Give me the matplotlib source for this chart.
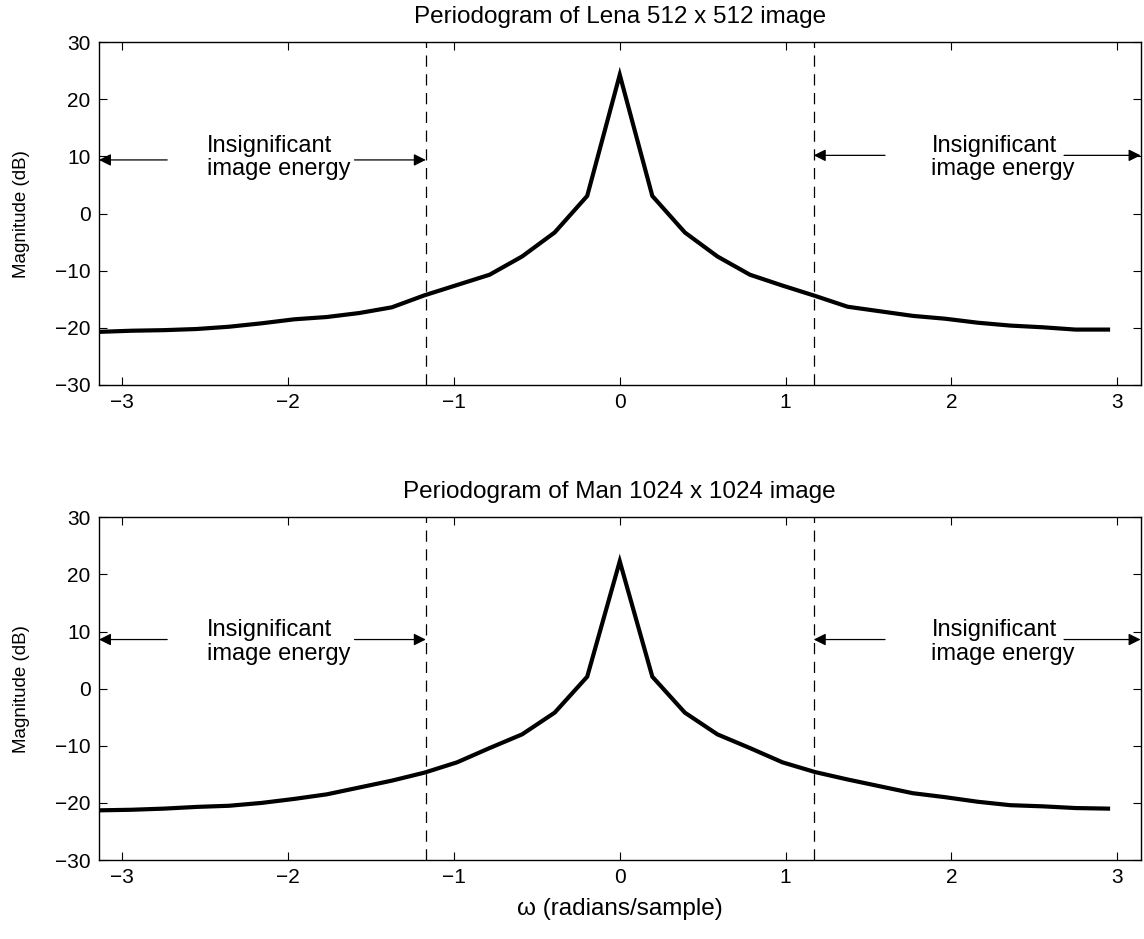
import numpy as np
import matplotlib
matplotlib.use("Agg")
import matplotlib.pyplot as plt

# ---- data ----
k = np.arange(-16, 16)
omega = k * np.pi / 16.0

lena_db = [-20.7, -20.5, -20.4, -20.2, -19.8, -19.2, -18.5, -18.1, -17.4, -16.4,
           -14.3, -12.5, -10.7, -7.5, -3.3, 3.1, 24.3, 3.1, -3.3, -7.5,
           -10.7, -12.6, -14.4, -16.3, -17.1, -17.9, -18.4, -19.1, -19.6, -19.9,
           -20.3, -20.3]
man_db = [-21.3, -21.2, -21.0, -20.7, -20.5, -20.0, -19.3, -18.5, -17.3, -16.1,
          -14.7, -12.9, -10.4, -8.0, -4.2, 2.1, 22.3, 2.1, -4.2, -8.0,
          -10.4, -12.9, -14.6, -15.9, -17.1, -18.3, -19.0, -19.8, -20.4, -20.6,
          -20.9, -21.0]

titles = ["Periodogram of Lena 512 x 512 image", "Periodogram of Man 1024 x 1024 image"]
cutoffs = [-1.17, 1.17]
yticks = [-30, -20, -10, 0, 10, 20, 30]
xticks = [-3, -2, -1, 0, 1, 2, 3]
note = "Insignificant\nimage energy"
# arrow heights (dB) per panel: (left group, right group)
arrow_y = [(9.4, 10.2), (8.6, 8.6)]
text_y = [(9.8, 9.8), (8.2, 8.2)]

plt.rcParams['font.family'] = ['Liberation Sans', 'DejaVu Sans']

fig = plt.figure(figsize=(11.44, 9.39), dpi=100)
ax1 = fig.add_axes([0.0865, 0.590, 0.9105, 0.365])
ax2 = fig.add_axes([0.0865, 0.0841, 0.9105, 0.365])

for i, (ax, data) in enumerate(zip([ax1, ax2], [lena_db, man_db])):
    ax.plot(omega, data, color='black', linewidth=3.0, solid_joinstyle='miter')
    for c in cutoffs:
        ax.axvline(c, color='black', linewidth=0.9, dashes=(9, 6))
    ax.set_xlim(-np.pi, np.pi)
    ax.set_ylim(-30, 30)
    ax.set_xticks(xticks)
    ax.set_yticks(yticks)
    ax.tick_params(direction='in', top=True, right=True, length=6, width=0.8,
                   labelsize=15, pad=6)
    for s in ax.spines.values():
        s.set_linewidth(1.0)
    ax.set_title(titles[i], fontsize=17.5, pad=14)
    ax.set_ylabel("Magnitude (dB)", fontsize=13.5)
    ax.yaxis.set_label_coords(-0.066, 0.5)

    ly, ry = arrow_y[i]
    ty_l, ty_r = text_y[i]
    # left group
    ax.text(-2.49, ty_l, note, ha='left', va='center', fontsize=17, linespacing=1.1)
    ax.annotate("", xy=(-np.pi, ly), xytext=(-2.73, ly),
                arrowprops=dict(arrowstyle='-|>', color='black', lw=0.9, mutation_scale=18,
                                shrinkA=0, shrinkB=0))
    ax.annotate("", xy=(cutoffs[0], ly), xytext=(-1.60, ly),
                arrowprops=dict(arrowstyle='-|>', color='black', lw=0.9, mutation_scale=18,
                                shrinkA=0, shrinkB=0))
    # right group
    ax.text(1.88, ty_r, note, ha='left', va='center', fontsize=17, linespacing=1.1)
    ax.annotate("", xy=(cutoffs[1], ry), xytext=(1.60, ry),
                arrowprops=dict(arrowstyle='-|>', color='black', lw=0.9, mutation_scale=18,
                                shrinkA=0, shrinkB=0))
    ax.annotate("", xy=(np.pi, ry), xytext=(2.68, ry),
                arrowprops=dict(arrowstyle='-|>', color='black', lw=0.9, mutation_scale=18,
                                shrinkA=0, shrinkB=0))

ax2.set_xlabel("ω (radians/sample)", fontsize=17.5, labelpad=8)

fig.savefig("out.png", dpi=100)
